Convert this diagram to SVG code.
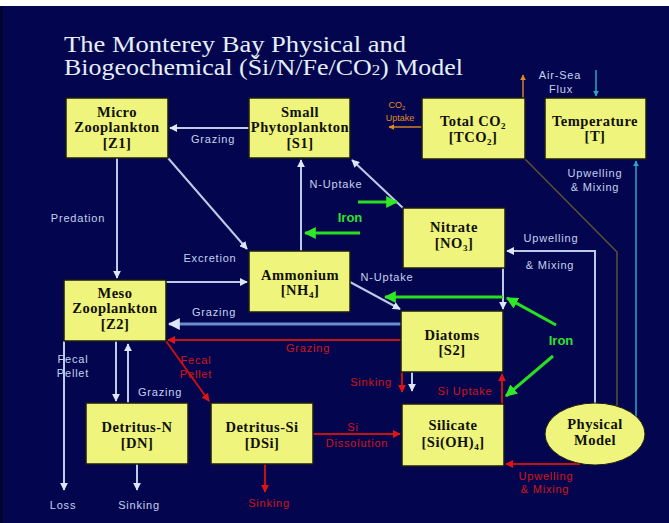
<svg xmlns="http://www.w3.org/2000/svg" width="669" height="523" viewBox="0 0 669 523">
<style>
.box{fill:#eef47c;stroke:#1c1c10;stroke-width:1.5}
.nt{font-family:"Liberation Serif",serif;font-weight:bold;font-size:14.5px;fill:#101008;text-anchor:middle;letter-spacing:0.5px}
.lb{font-family:"Liberation Sans",Arial,sans-serif;font-size:11px;fill:#c4d2ee;text-anchor:middle;letter-spacing:0.8px}
.lr{font-family:"Liberation Sans",Arial,sans-serif;font-size:11px;fill:#d41414;text-anchor:middle;letter-spacing:0.8px}
.lg{font-family:"Liberation Sans",Arial,sans-serif;font-weight:bold;font-size:13px;fill:#30e030;text-anchor:middle}
.lo{font-family:"Liberation Sans",Arial,sans-serif;font-size:9px;fill:#e08a20;text-anchor:middle}
.cb{stroke:#bccbe8;stroke-width:2;fill:none}
.cb3{stroke:#6a8ccc;stroke-width:3;fill:none}
.cr{stroke:#c81010;stroke-width:2;fill:none}
.cg{stroke:#28e020;stroke-width:3;fill:none}
.cc{stroke:#2aa6c6;stroke-width:1.5;fill:none}
.co{stroke:#d08020;stroke-width:1.5;fill:none}
.cn{stroke:#5c5232;stroke-width:1.5;fill:none}
.title{font-family:"Liberation Serif",serif;font-size:23px;fill:#e6eef8}
</style>
<defs>
<marker id="ab" viewBox="0 0 10 10" refX="9" refY="5" markerWidth="4" markerHeight="4" orient="auto"><path d="M0,0L10,5L0,10z" fill="#dde6f6"/></marker>
<marker id="ar" viewBox="0 0 10 10" refX="9" refY="5" markerWidth="4" markerHeight="4" orient="auto"><path d="M0,0L10,5L0,10z" fill="#e01414"/></marker>
<marker id="ag" viewBox="0 0 10 10" refX="9" refY="5" markerWidth="4" markerHeight="4" orient="auto"><path d="M0,0L10,5L0,10z" fill="#30e828"/></marker>
<marker id="ac" viewBox="0 0 10 10" refX="9" refY="5" markerWidth="4" markerHeight="4" orient="auto"><path d="M0,0L10,5L0,10z" fill="#2aa6c6"/></marker>
<marker id="ao" viewBox="0 0 10 10" refX="9" refY="5" markerWidth="4" markerHeight="4" orient="auto"><path d="M0,0L10,5L0,10z" fill="#e08a20"/></marker>
</defs>
<rect x="0" y="0" width="669" height="523" fill="#ffffff"/>
<rect x="0" y="6" width="669" height="517" fill="#03064f"/>
<rect x="0" y="6" width="3" height="517" fill="#010330"/>
<text class="title" x="64" y="52" textLength="342" lengthAdjust="spacingAndGlyphs">The Monterey Bay Physical and</text>
<text class="title" x="64" y="75" textLength="399" lengthAdjust="spacingAndGlyphs">Biogeochemical (Ši/N/Fe/CO<tspan font-size="15">2</tspan>) Model</text>

<g id="connectors">
<line class="cb" x1="249" y1="128" x2="170" y2="128" marker-end="url(#ab)"/>
<line class="cb" x1="168" y1="158" x2="247" y2="249" marker-end="url(#ab)"/>
<line class="cb" x1="166" y1="282" x2="247" y2="282" marker-end="url(#ab)"/>
<line class="cb" x1="117" y1="158" x2="117" y2="278" marker-end="url(#ab)"/>
<line class="cb" x1="301" y1="251" x2="301" y2="160" marker-end="url(#ab)"/>
<line class="cb" x1="403" y1="208" x2="352" y2="160" marker-end="url(#ab)"/>
<line class="cg" x1="358" y1="202" x2="397" y2="202" marker-end="url(#ag)"/>
<line class="cg" x1="360" y1="233" x2="305" y2="233" marker-end="url(#ag)"/>
<line class="cb" x1="350" y1="282" x2="400" y2="309" marker-end="url(#ab)"/>
<line class="cb" x1="503" y1="268" x2="503" y2="309" marker-end="url(#ab)"/>
<line class="cg" x1="503" y1="297" x2="385" y2="297" stroke-width="4" marker-end="url(#ag)"/>
<line class="cg" x1="556" y1="325" x2="507" y2="298" marker-end="url(#ag)"/>
<line class="cg" x1="553" y1="356" x2="506" y2="396" marker-end="url(#ag)"/>
<polyline class="cb" points="595,405 595,251 507,251" marker-end="url(#ab)"/>
<line class="cc" x1="636" y1="422" x2="636" y2="161" marker-end="url(#ac)"/>
<line class="cc" x1="596" y1="70" x2="596" y2="96" marker-end="url(#ac)"/>
<line class="co" x1="523" y1="98" x2="523" y2="75" marker-end="url(#ao)"/>
<line class="co" x1="422" y1="127" x2="389" y2="127" marker-end="url(#ao)"/>
<polyline class="cn" points="525,159 617,252 617,407"/>
<line class="cb3" x1="401" y1="324" x2="169" y2="324" marker-end="url(#ab)"/>
<line class="cr" x1="401" y1="340" x2="168" y2="340" marker-end="url(#ar)"/>
<line class="cr" x1="166" y1="341" x2="209" y2="401" marker-end="url(#ar)"/>
<line class="cb" x1="116" y1="341" x2="116" y2="401" marker-end="url(#ab)"/>
<line class="cb" x1="128" y1="403" x2="128" y2="344" marker-end="url(#ab)"/>
<line class="cb" x1="64" y1="341" x2="64" y2="490" marker-end="url(#ab)"/>
<line class="cb" x1="137" y1="464" x2="137" y2="490" marker-end="url(#ab)"/>
<line class="cr" x1="265" y1="464" x2="265" y2="492" marker-end="url(#ar)"/>
<line class="cr" x1="313" y1="434" x2="400" y2="434" marker-end="url(#ar)"/>
<line class="cr" x1="402" y1="372" x2="402" y2="392" marker-end="url(#ar)"/>
<line class="cb" x1="412" y1="372" x2="412" y2="391" marker-end="url(#ab)"/>
<line class="cr" x1="502" y1="404" x2="502" y2="374" marker-end="url(#ar)"/>
<line class="cr" x1="580" y1="464" x2="506" y2="464" marker-end="url(#ar)"/>
</g>

<g id="labels">
<text class="lb" x="213" y="143">Grazing</text>
<text class="lb" x="78" y="222">Predation</text>
<text class="lb" x="210" y="262">Excretion</text>
<text class="lb" x="336" y="188">N-Uptake</text>
<text class="lb" x="387" y="281">N-Uptake</text>
<text class="lb" x="551" y="242">Upwelling</text>
<text class="lb" x="550" y="269">&amp; Mixing</text>
<text class="lb" x="595" y="177">Upwelling</text>
<text class="lb" x="595" y="191">&amp; Mixing</text>
<text class="lb" x="560" y="79" font-size="10">Air-Sea</text>
<text class="lb" x="561" y="93" font-size="10">Flux</text>
<text class="lb" x="214" y="316">Grazing</text>
<text class="lb" x="73" y="363" text-anchor="start">Fecal</text>
<text class="lb" x="73" y="377" text-anchor="start">Pellet</text>
<text class="lb" x="160" y="396">Grazing</text>
<text class="lb" x="63" y="509">Loss</text>
<text class="lb" x="139" y="509">Sinking</text>
<text class="lr" x="308" y="352">Grazing</text>
<text class="lr" x="196" y="364" text-anchor="start">Fecal</text>
<text class="lr" x="196" y="378" text-anchor="start">Pellet</text>
<text class="lr" x="269" y="507">Sinking</text>
<text class="lr" x="353" y="431">Si</text>
<text class="lr" x="357" y="447">Dissolution</text>
<text class="lr" x="371" y="386">Sinking</text>
<text class="lr" x="465" y="395">Si Uptake</text>
<text class="lr" x="546" y="480">Upwelling</text>
<text class="lr" x="545" y="493">&amp; Mixing</text>
<text class="lo" x="397" y="108">CO<tspan font-size="6" dy="2">2</tspan></text>
<text class="lo" x="400" y="121">Uptake</text>
<text class="lg" x="350" y="222">Iron</text>
<text class="lg" x="561" y="345">Iron</text>
</g>

<g id="Z1"><rect class="box" x="66" y="98" width="102" height="60"/>
<text class="nt" x="117" y="117">Micro</text><text class="nt" x="117" y="132">Zooplankton</text><text class="nt" x="117" y="148">[Z1]</text></g>
<g id="S1"><rect class="box" x="249" y="98" width="101" height="60"/>
<text class="nt" x="300" y="117">Small</text><text class="nt" x="300" y="132" letter-spacing="0">Phytoplankton</text><text class="nt" x="300" y="148">[S1]</text></g>
<g id="TCO2"><rect class="box" x="422" y="98" width="103" height="61"/>
<text class="nt" x="473" y="126">Total CO<tspan font-size="9" dy="3">2</tspan></text><text class="nt" x="473" y="142">[TCO<tspan font-size="9" dy="3">2</tspan><tspan dy="-3">]</tspan></text></g>
<g id="T"><rect class="box" x="545" y="98" width="101" height="61"/>
<text class="nt" x="595" y="126">Temperature</text><text class="nt" x="595" y="141">[T]</text></g>
<g id="NO3"><rect class="box" x="403" y="208" width="102" height="60"/>
<text class="nt" x="454" y="232">Nitrate</text><text class="nt" x="454" y="248">[NO<tspan font-size="9" dy="3">3</tspan><tspan dy="-3">]</tspan></text></g>
<g id="NH4"><rect class="box" x="249" y="251" width="101" height="61"/>
<text class="nt" x="300" y="280">Ammonium</text><text class="nt" x="300" y="295">[NH<tspan font-size="9" dy="3">4</tspan><tspan dy="-3">]</tspan></text></g>
<g id="Z2"><rect class="box" x="64" y="280" width="102" height="61"/>
<text class="nt" x="115" y="298">Meso</text><text class="nt" x="115" y="313">Zooplankton</text><text class="nt" x="115" y="329">[Z2]</text></g>
<g id="S2"><rect class="box" x="401" y="311" width="102" height="61"/>
<text class="nt" x="452" y="340">Diatoms</text><text class="nt" x="452" y="355">[S2]</text></g>
<g id="DN"><rect class="box" x="86" y="403" width="102" height="61"/>
<text class="nt" x="137" y="432">Detritus-N</text><text class="nt" x="137" y="448">[DN]</text></g>
<g id="DSi"><rect class="box" x="211" y="403" width="102" height="61"/>
<text class="nt" x="262" y="432">Detritus-Si</text><text class="nt" x="262" y="448">[DSi]</text></g>
<g id="SiOH4"><rect class="box" x="402" y="404" width="102" height="62"/>
<text class="nt" x="453" y="430">Silicate</text><text class="nt" x="453" y="447">[Si(OH)<tspan font-size="9" dy="3">4</tspan><tspan dy="-3">]</tspan></text></g>
<g id="PM"><ellipse cx="595" cy="434" rx="50" ry="31" fill="#eef47c" stroke="#1c1c10" stroke-width="1"/>
<text class="nt" x="595" y="429">Physical</text><text class="nt" x="595" y="445">Model</text></g>
</svg>
